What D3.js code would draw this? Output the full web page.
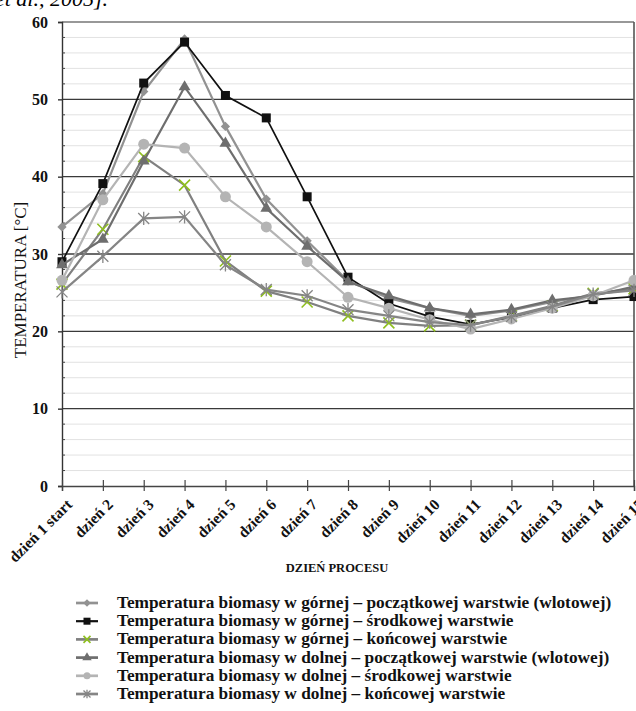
<!DOCTYPE html>
<html>
<head>
<meta charset="utf-8">
<script src="https://cdn.jsdelivr.net/npm/d3@7"></script>
<style>
  body { margin: 0; background: #fff; }
  svg { display: block; font-family: "Liberation Serif", "Times New Roman", serif; }
</style>
</head>
<body>
<svg width="636" height="711"></svg>
<script>
const days = ['dzień 1 start', 'dzień 2', 'dzień 3', 'dzień 4', 'dzień 5', 'dzień 6', 'dzień 7', 'dzień 8',
  'dzień 9', 'dzień 10', 'dzień 11', 'dzień 12', 'dzień 13', 'dzień 14', 'dzień 15']
const yTicks = [0, 10, 20, 30, 40, 50, 60]

// temperatures
const gornaPoczatkowa = [33.5, 37.8, 51.0, 57.8, 46.5, 37.1, 31.7, 26.5, 24.3, 23.0, 22.0, 22.7, 23.8, 24.7, 25.5]
const gornaSrodkowa = [29.0, 39.1, 52.1, 57.4, 50.5, 47.6, 37.4, 27.0, 23.6, 21.9, 20.9, 21.8, 23.0, 24.1, 24.5]
const gornaKoncowa = [26.1, 33.2, 42.6, 38.9, 29.1, 25.2, 23.8, 22.0, 21.1, 20.7, 20.8, 22.0, 23.3, 24.9, 25.5]
const dolnaPoczatkowa = [28.6, 31.9, 42.0, 51.6, 44.3, 35.9, 31.0, 26.4, 24.6, 23.0, 22.2, 22.8, 24.0, 24.6, 25.8]
const dolnaSrodkowa = [26.6, 37.0, 44.2, 43.7, 37.4, 33.5, 29.0, 24.4, 23.0, 21.5, 20.3, 21.6, 23.0, 24.6, 26.6]
const dolnaKoncowa = [25.1, 29.7, 34.6, 34.8, 28.6, 25.4, 24.6, 22.8, 22.0, 21.2, 20.8, 21.9, 23.2, 24.8, 25.3]

const seriesNames = [
  'Temperatura biomasy w górnej – początkowej warstwie (wlotowej)',
  'Temperatura biomasy w górnej – środkowej warstwie',
  'Temperatura biomasy w górnej – końcowej warstwie',
  'Temperatura biomasy w dolnej – początkowej warstwie (wlotowej)',
  'Temperatura biomasy w dolnej – środkowej warstwie',
  'Temperatura biomasy w dolnej – końcowej warstwie'
]
const seriesValues = [gornaPoczatkowa, gornaSrodkowa, gornaKoncowa, dolnaPoczatkowa, dolnaSrodkowa, dolnaKoncowa]

const styles = [
  { line: '#929292', fill: '#929292', mark: 'diamond', w: 2.2 },
  { line: '#111111', fill: '#111111', mark: 'square', w: 1.7 },
  { line: '#808080', fill: '#8fbf1f', mark: 'x', w: 2.2 },
  { line: '#6e6e6e', fill: '#6e6e6e', mark: 'triangle', w: 2.2 },
  { line: '#b4b4b4', fill: '#b4b4b4', mark: 'circle', w: 2.2 },
  { line: '#858585', fill: '#858585', mark: 'star', w: 2.2 }
]

const svg = d3.select('svg')
const plotLeft = 62, plotRight = 634, plotTop = 22, plotBottom = 486

const x = d3.scalePoint().domain(days).range([plotLeft, plotRight])
const y = d3.scaleLinear().domain([0, 60]).range([plotBottom, plotTop])

// citation fragment at the top (cut off in the source)
svg.append('text')
  .attr('x', 108).attr('y', 6)
  .attr('text-anchor', 'end')
  .attr('font-size', 22).attr('font-style', 'italic')
  .text('et al., 2005].')

// minor grid
svg.append('g').selectAll('line')
  .data(d3.range(2, 60, 2).filter(v => v % 10 !== 0))
  .enter().append('line')
    .attr('x1', plotLeft).attr('x2', plotRight)
    .attr('y1', d => y(d)).attr('y2', d => y(d))
    .attr('stroke', '#e2e2e2').attr('stroke-width', 1)

// major grid
svg.append('g').selectAll('line')
  .data(yTicks.filter(v => v > 0 && v < 60))
  .enter().append('line')
    .attr('x1', plotLeft).attr('x2', plotRight)
    .attr('y1', d => y(d)).attr('y2', d => y(d))
    .attr('stroke', '#3a3a3a').attr('stroke-width', 1.4)

// frame
svg.append('line').attr('x1', plotLeft).attr('x2', plotRight).attr('y1', plotTop).attr('y2', plotTop)
  .attr('stroke', '#333').attr('stroke-width', 1.2)
svg.append('line').attr('x1', plotRight).attr('x2', plotRight).attr('y1', plotTop).attr('y2', plotBottom)
  .attr('stroke', '#555').attr('stroke-width', 1.6)

// y axis
const yAxis = svg.append('g')
  .attr('transform', `translate(${plotLeft},0)`)
  .call(d3.axisLeft(y).tickValues(yTicks).tickSize(4).tickPadding(10))
yAxis.select('.domain').attr('stroke', '#333').attr('stroke-width', 1.4)
yAxis.selectAll('.tick line').attr('stroke', '#333').attr('stroke-width', 1.4)
yAxis.selectAll('.tick text')
  .attr('font-family', 'Liberation Serif, serif')
  .attr('font-size', 16).attr('font-weight', 'bold').attr('fill', '#111')

// minor ticks on y axis
svg.append('g').selectAll('line')
  .data(d3.range(2, 60, 2).filter(v => v % 10 !== 0))
  .enter().append('line')
    .attr('x1', plotLeft).attr('x2', plotLeft + 3)
    .attr('y1', d => y(d)).attr('y2', d => y(d))
    .attr('stroke', '#444').attr('stroke-width', 1)

// x axis
const xAxis = svg.append('g')
  .attr('transform', `translate(0,${plotBottom})`)
  .call(d3.axisBottom(x).tickSize(5).tickPadding(0))
xAxis.select('.domain').attr('stroke', '#444').attr('stroke-width', 1.4)
xAxis.selectAll('.tick line').attr('y1', -6).attr('y2', 5).attr('stroke', '#444').attr('stroke-width', 1.2)
xAxis.selectAll('.tick text')
  .attr('font-family', 'Liberation Serif, serif')
  .attr('font-size', 15.5).attr('font-weight', 'bold').attr('fill', '#111')
  .attr('text-anchor', 'end')
  .attr('dy', 0)
  .attr('transform', 'translate(7,16) rotate(-45)')

// axis titles
svg.append('text')
  .attr('transform', 'translate(26,280) rotate(-90)')
  .attr('text-anchor', 'middle')
  .attr('font-size', 17).attr('fill', '#111')
  .text('TEMPERATURA [°C]')

svg.append('text')
  .attr('x', 337).attr('y', 572)
  .attr('text-anchor', 'middle')
  .attr('font-size', 12.5).attr('font-weight', 'bold').attr('fill', '#111')
  .text('DZIEŃ PROCESU')

// markers
const drawMarker = (g, s, size) => {
  if (s.mark === 'diamond') {
    g.append('path').attr('d', d3.symbol(d3.symbolDiamond2, size * 5)()).attr('fill', s.fill)
  } else if (s.mark === 'square') {
    g.append('rect').attr('x', -size / 2).attr('y', -size / 2).attr('width', size).attr('height', size).attr('fill', s.fill)
  } else if (s.mark === 'triangle') {
    g.append('path').attr('d', d3.symbol(d3.symbolTriangle, size * 5.5)()).attr('fill', s.fill)
  } else if (s.mark === 'circle') {
    g.append('circle').attr('r', size / 2).attr('fill', s.fill)
  } else if (s.mark === 'x') {
    const r = size / 2
    g.append('path').attr('d', `M${-r},${-r}L${r},${r}M${-r},${r}L${r},${-r}`).attr('stroke', s.fill).attr('stroke-width', 1.6)
  } else if (s.mark === 'star') {
    const r = size / 2
    g.append('path')
      .attr('d', `M${-r},${-r}L${r},${r}M${-r},${r}L${r},${-r}M0,${-r * 1.2}L0,${r * 1.2}`)
      .attr('stroke', s.fill).attr('stroke-width', 1.3)
  }
}

const line = d3.line().x((d, i) => x(days[i])).y(d => y(d))

seriesValues.forEach((vals, k) => {
  const s = styles[k]
  const g = svg.append('g')
  g.append('path').datum(vals)
    .attr('d', line)
    .attr('fill', 'none').attr('stroke', s.line).attr('stroke-width', s.w)
  g.selectAll('g.m').data(vals).enter().append('g')
    .attr('transform', (d, i) => `translate(${x(days[i])},${y(d)})`)
    .each(function () { drawMarker(d3.select(this), s, s.mark === 'square' ? 9 : 11) })
})

// legend
const legend = svg.append('g')
seriesNames.forEach((name, k) => {
  const s = styles[k]
  const ly = 603 + k * 18.2
  legend.append('line').attr('x1', 76).attr('x2', 98).attr('y1', ly).attr('y2', ly)
    .attr('stroke', s.line).attr('stroke-width', s.w + 0.5)
  const m = legend.append('g').attr('transform', `translate(87,${ly})`)
  drawMarker(m, s, 7)
  legend.append('text')
    .attr('x', 117).attr('y', ly + 5)
    .attr('font-size', 17.3).attr('font-weight', 'bold').attr('fill', '#111')
    .text(name)
})
</script>
</body>
</html>
